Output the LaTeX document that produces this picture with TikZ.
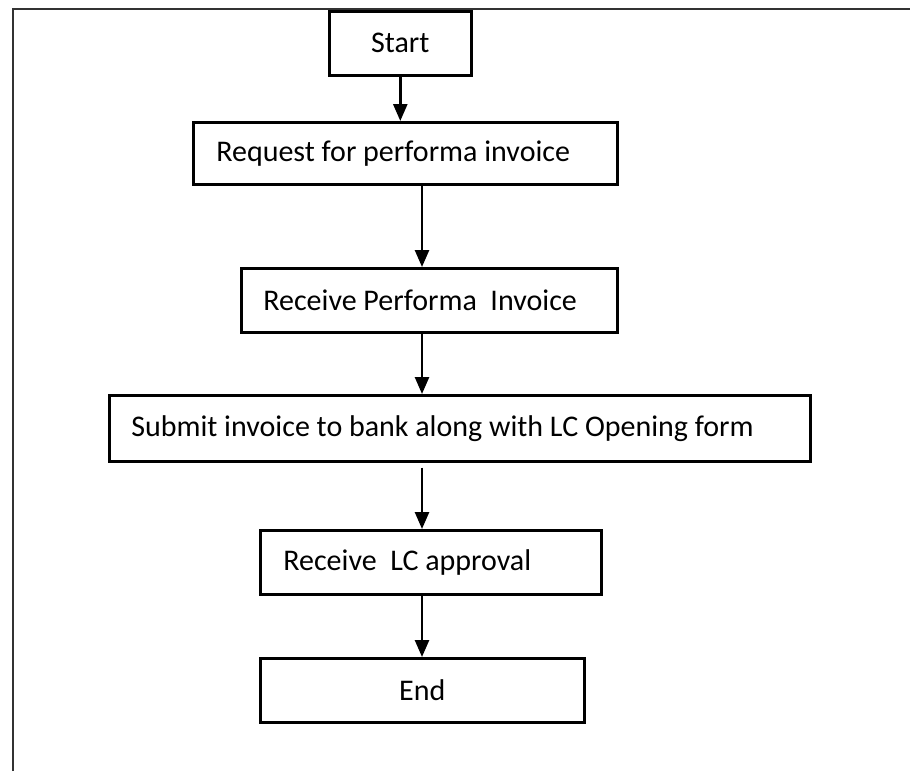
\documentclass[tikz,border=0pt]{standalone}
\usepackage{fontspec}
\setmainfont{Carlito}
\usetikzlibrary{arrows.meta}
% left-padded single line of a fixed total width
\newcommand{\padline}[3]{\makebox[#2][l]{\hspace*{#1}#3}}
\begin{document}
\begin{tikzpicture}[x=1pt,y=-1pt,
  stepbox/.style={draw=black,line width=2.6pt,inner sep=0pt,anchor=north west,
    font=\fontsize{30}{36}\selectfont},
  flow/.style={line width=2.6pt,-{Triangle[length=17pt,width=14pt]}},
  frame/.style={line width=2.6pt,draw=black!80}]
\useasboundingbox (0,0) rectangle (910,771);
% page frame: top and left rules
\draw[frame] (13,771) -- (13,9) -- (910,9);

% process steps
\node[stepbox,minimum width=142pt,minimum height=64pt] (start) at (328,10) {Start};
\node[stepbox,minimum height=62pt] (req) at (192,121)
  {\padline{23pt}{424pt}{Request for performa invoice}};
\node[stepbox,minimum height=64pt] (recv) at (240,267)
  {\padline{22pt}{376pt}{Receive Performa\ \ Invoice}};
\node[stepbox,minimum height=66pt] (submit) at (108,394)
  {\padline{22pt}{701pt}{Submit invoice to bank along with LC Opening form}};
\node[stepbox,minimum height=64pt] (lcok) at (259,529)
  {\padline{23pt}{341pt}{Receive\ \ LC approval}};
\node[stepbox,minimum width=324pt,minimum height=64pt] (finish) at (259,657) {End};

% connectors
\coordinate (axis) at (422,0);
\path (submit.south -| axis) ++(0,5) coordinate (c4);
\draw[flow] (start.south) -- (start.south |- req.north);
\draw[flow] (req.south -| axis) -- (recv.north -| axis);
\draw[flow] (recv.south -| axis) -- (submit.north -| axis);
\draw[flow] (c4) -- (lcok.north -| axis);
\draw[flow] (lcok.south -| axis) -- (finish.north -| axis);
\end{tikzpicture}
\end{document}
